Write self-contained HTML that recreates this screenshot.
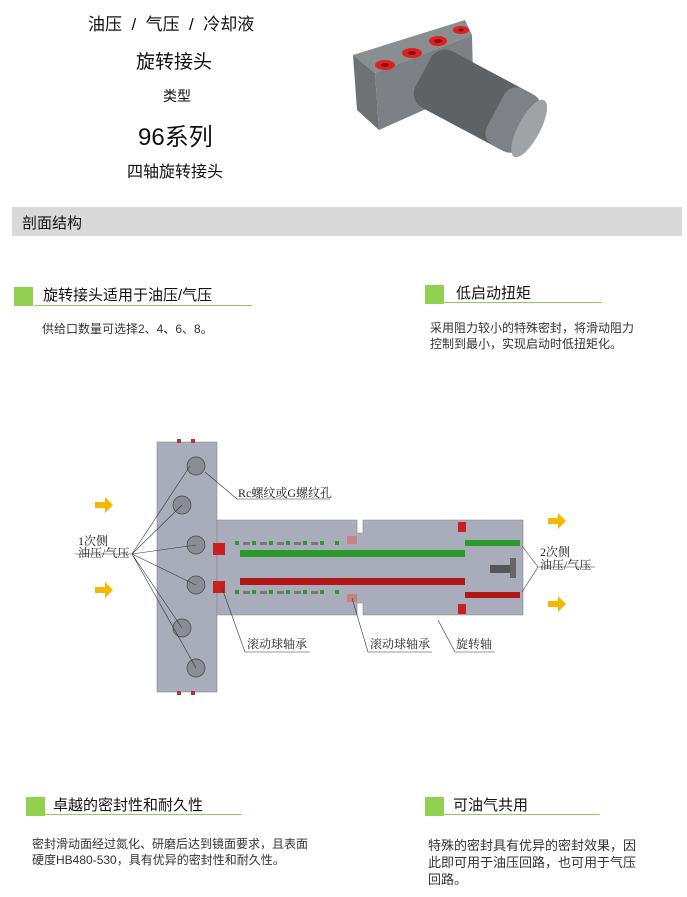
<!DOCTYPE html>
<html><head><meta charset="utf-8"><style>
body{margin:0;width:687px;height:897px;background:#fff;position:relative;overflow:hidden;font-family:"Liberation Sans","Noto Sans CJK SC",sans-serif;color:#111}
.a{position:absolute;white-space:nowrap}
.sq{position:absolute;width:19px;height:19px;background:#92d050}
.ln{position:absolute;height:1px;background:#92d050}
.h{font-size:15px}
.p{font-size:12px;color:#333;line-height:16px}
</style></head><body>
<div class="a" style="left:88px;top:10px;font-size:17px">油压&nbsp;&nbsp;/&nbsp;&nbsp;气压&nbsp;&nbsp;/&nbsp;&nbsp;冷却液</div>
<div class="a" style="left:136px;top:47px;font-size:19px">旋转接头</div>
<div class="a" style="left:163px;top:86px;font-size:14px">类型</div>
<div class="a" style="left:138px;top:117px;font-size:24px">96系列</div>
<div class="a" style="left:127px;top:158px;font-size:16px">四轴旋转接头</div>
<svg class="a" style="left:345px;top:15px" width="210" height="145">
<polygon points="8,40 120,5 127,20 30,58" fill="#8b8e91"/>
<polygon points="8,40 30,58 34,115 12,95" fill="#6f7275"/>
<polygon points="30,58 127,20 128,60 90,90 34,115" fill="#7d8084"/>
<g transform="rotate(28 140 90)"><rect x="70" y="58" width="120" height="64" rx="16" fill="#5f6264"/><rect x="152" y="58" width="40" height="64" rx="14" fill="#7e8185"/><ellipse cx="190" cy="90" rx="11" ry="32" fill="#a0a3a6"/></g>
<g fill="#e02020"><ellipse cx="40" cy="50" rx="10" ry="5"/><ellipse cx="67" cy="38" rx="10" ry="5"/><ellipse cx="93" cy="26" rx="9" ry="5"/><ellipse cx="116" cy="15" rx="8" ry="4"/></g>
<g fill="#8a1010"><ellipse cx="40" cy="50" rx="4" ry="2"/><ellipse cx="67" cy="38" rx="4" ry="2"/><ellipse cx="93" cy="26" rx="4" ry="2"/><ellipse cx="116" cy="15" rx="3" ry="1.5"/></g>
</svg>
<div class="a" style="left:12px;top:207px;width:670px;height:29px;background:#d9d9d9"></div>
<div class="a" style="left:22px;top:212px;font-size:15px">剖面结构</div>
<div class="sq" style="left:14px;top:287px"></div><div class="ln" style="left:34px;top:305px;width:218px"></div>
<div class="a h" style="left:43px;top:284px">旋转接头适用于油压/气压</div>
<div class="a p" style="left:42px;top:321px">供给口数量可选择2、4、6、8。</div>
<div class="sq" style="left:425px;top:285px"></div><div class="ln" style="left:444px;top:302px;width:158px"></div>
<div class="a h" style="left:456px;top:282px">低启动扭矩</div>
<div class="a p" style="left:430px;top:320px">采用阻力较小的特殊密封，将滑动阻力<br>控制到最小，实现启动时低扭矩化。</div>
<svg class="a" style="left:0;top:430px" width="687" height="280" font-family="Liberation Serif,Noto Serif CJK SC,serif" font-size="12">
<g fill="#a8acbb" stroke="#888" stroke-width="0.6">
<rect x="157" y="12" width="60" height="250"/>
<path d="M217,90 H357 V103 H363 V90 H523 V185 H363 V173 H357 V185 H217Z"/></g>
<g fill="#b33"><rect x="177" y="9" width="4" height="4"/><rect x="191" y="9" width="4" height="4"/><rect x="177" y="261" width="4" height="4"/><rect x="191" y="261" width="4" height="4"/></g>
<rect x="240" y="120" width="225" height="7" fill="#2a9a2a"/><rect x="465" y="110" width="55" height="6" fill="#2a9a2a"/>
<rect x="240" y="148" width="225" height="7" fill="#b01818"/><rect x="465" y="162" width="55" height="6" fill="#b01818"/>
<g fill="#c82020"><rect x="213" y="113" width="12" height="12"/><rect x="213" y="151" width="12" height="12"/><rect x="458" y="92" width="8" height="10"/><rect x="458" y="174" width="8" height="10"/></g>
<g fill="#c88080"><rect x="347" y="106" width="10" height="8"/><rect x="347" y="164" width="10" height="8"/></g>
<g fill="#2a9a2a"><rect x="235" y="111" width="4" height="4"/><rect x="252" y="111" width="4" height="4"/><rect x="269" y="111" width="4" height="4"/><rect x="286" y="111" width="4" height="4"/><rect x="303" y="111" width="4" height="4"/><rect x="320" y="111" width="4" height="4"/><rect x="335" y="111" width="4" height="4"/>
<rect x="235" y="160" width="4" height="4"/><rect x="252" y="160" width="4" height="4"/><rect x="269" y="160" width="4" height="4"/><rect x="286" y="160" width="4" height="4"/><rect x="303" y="160" width="4" height="4"/><rect x="320" y="160" width="4" height="4"/><rect x="335" y="160" width="4" height="4"/></g>
<g fill="#777"><rect x="243" y="112" width="7" height="3"/><rect x="260" y="112" width="7" height="3"/><rect x="277" y="112" width="7" height="3"/><rect x="294" y="112" width="7" height="3"/><rect x="311" y="112" width="7" height="3"/><rect x="243" y="161" width="7" height="3"/><rect x="260" y="161" width="7" height="3"/><rect x="277" y="161" width="7" height="3"/><rect x="294" y="161" width="7" height="3"/><rect x="311" y="161" width="7" height="3"/></g>
<rect x="490" y="135" width="22" height="8" fill="#555"/><rect x="510" y="128" width="6" height="20" fill="#666"/>
<g fill="#8a8d95" stroke="#444" stroke-width="0.7">
<circle cx="196" cy="36" r="9"/><circle cx="182" cy="75" r="9"/><circle cx="196" cy="115" r="9"/><circle cx="196" cy="155" r="9"/><circle cx="182" cy="198" r="9"/><circle cx="196" cy="238" r="9"/></g>
<g stroke="#333" stroke-width="0.6" fill="none">
<path d="M75,124 L132,124 L190,36 M132,124 L182,75 M132,124 L196,115 M132,124 L196,155 M132,124 L182,198 M132,124 L196,238"/>
<path d="M205,42 L237,69 H330"/>
<path d="M538,137 L522,116 M538,137 L522,162 M538,137 H595"/>
<path d="M222,158 L245,222 H310 M352,168 L368,222 H432 M438,190 L455,222 H495"/></g>
<g fill="#f5b800"><path d="M95,72h10v-5l8,8-8,8v-5h-10z"/><path d="M95,157h10v-5l8,8-8,8v-5h-10z"/><path d="M548,88h10v-5l8,8-8,8v-5h-10z"/><path d="M548,171h10v-5l8,8-8,8v-5h-10z"/></g>
<g fill="#222"><text x="238" y="67">Rc螺纹或G螺纹孔</text><text x="78" y="115">1次侧</text><text x="78" y="127">油压/气压</text><text x="540" y="126">2次侧</text><text x="540" y="139">油压/气压</text>
<text x="247" y="218">滚动球轴承</text><text x="370" y="218">滚动球轴承</text><text x="456" y="218">旋转轴</text></g>
</svg>
<div class="sq" style="left:26px;top:797px"></div><div class="ln" style="left:45px;top:814px;width:197px"></div>
<div class="a h" style="left:53px;top:794px">卓越的密封性和耐久性</div>
<div class="a p" style="left:32px;top:836px">密封滑动面经过氮化、研磨后达到镜面要求，且表面<br>硬度HB480-530，具有优异的密封性和耐久性。</div>
<div class="sq" style="left:425px;top:797px"></div><div class="ln" style="left:444px;top:814px;width:156px"></div>
<div class="a h" style="left:453px;top:794px">可油气共用</div>
<div class="a p" style="left:428px;top:837px;font-size:13px;line-height:17px">特殊的密封具有优异的密封效果，因<br>此即可用于油压回路，也可用于气压<br>回路。</div>
</body></html>
